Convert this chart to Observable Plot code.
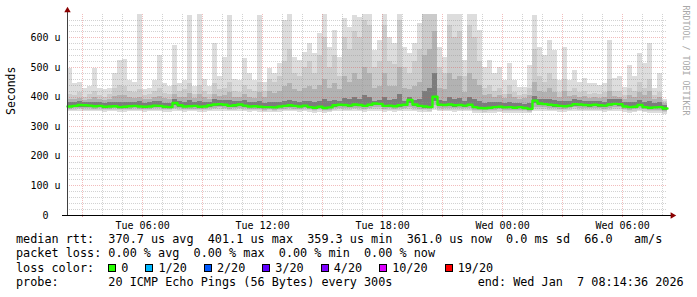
<!DOCTYPE html>
<html>
<head>
<meta charset="utf-8">
<script src="https://cdn.jsdelivr.net/npm/d3@7"></script>
<script src="https://cdn.jsdelivr.net/npm/@observablehq/plot@0.6"></script>
<style>
  html, body { margin: 0; padding: 0; background: #fff; }
  #wrap { width: 697px; height: 297px; position: relative; overflow: hidden; background: #fff; }
  #legend { font-family: "DejaVu Sans Mono", monospace; font-size: 11.8px; line-height: 14.4px; color: #000; white-space: pre; padding-left: 16px; }
  .sq { display: inline-block; width: 6px; height: 6px; border: 1px solid #000; margin-right: 5px; }
  .lbl { margin-right: 17px; }
</style>
</head>
<body>
<div id="wrap"><div id="chart"></div><div id="legend"></div></div>
<script>
// ---- data ----
const startTime = "2026-01-06T02:14:36Z";
const endTime = "2026-01-07T08:14:36Z";
const stepMinutes = 15;

// median rtt per 15-minute column (microseconds)
const med = [
  368,370,373,372,371,369,370,367,368,369,
  366,367,369,370,368,367,368,371,370,367,
  366,380,372,368,369,370,367,368,372,375,
  376,374,370,372,375,371,368,369,367,366,
  366,365,368,370,372,370,368,371,366,364,
  367,363,365,372,374,373,371,375,373,370,
  374,378,377,370,371,369,372,374,390,375,
  370,368,366,401,374,373,375,372,373,371,
  374,366,363,362,364,366,367,365,366,364,
  366,363,360,388,378,376,374,372,370,369,
  371,376,375,373,372,374,372,371,375,377,
  376,368,366,367,373,366,364,365,366,361];

// smoke: highest ping per column
const maxv = [
  495,445,450,430,435,495,430,425,430,478,
  523,525,456,450,678,425,430,456,540,445,
  435,575,445,456,675,435,678,460,435,580,
  468,535,675,460,457,530,478,456,675,450,
  495,478,512,658,678,535,523,550,580,546,
  613,678,568,625,535,665,636,675,670,678,
  678,557,590,678,602,580,678,568,546,580,
  647,678,678,678,568,535,678,678,678,523,
  678,678,625,501,523,478,501,456,512,456,
  433,433,506,675,568,540,590,557,456,568,
  456,490,450,462,445,445,440,445,590,462,
  468,433,506,468,546,512,580,428,478,390];

const u2 = [
  410,405,415,400,408,420,405,400,410,430,
  440,435,420,415,425,405,410,420,430,412,
  408,440,418,425,445,410,440,420,408,445,
  425,430,450,420,415,440,425,418,450,420,
  460,450,470,520,560,480,470,500,520,480,
  540,600,500,540,470,600,560,620,600,660,
  640,500,520,640,520,510,660,500,480,520,
  560,678,678,678,500,480,640,600,620,470,
  640,600,520,430,440,420,430,410,440,415,
  405,408,430,560,470,450,480,460,415,460,
  420,430,415,420,410,412,408,415,460,420,
  418,405,430,420,450,430,460,405,415,385];

const u3 = [
  392,390,395,388,392,398,390,388,392,402,
  405,404,398,395,400,390,393,398,403,394,
  392,410,398,400,412,394,408,400,392,410,
  402,405,415,400,398,410,400,396,415,398,
  420,412,420,435,445,425,420,430,435,425,
  440,460,430,445,425,470,450,480,460,500,
  480,430,435,480,435,435,500,430,425,435,
  450,540,560,620,430,425,480,460,470,415,
  480,460,440,405,410,400,405,395,410,398,
  392,395,405,450,420,415,430,415,400,420,
  402,405,398,402,396,398,394,400,420,402,
  400,392,405,400,415,405,420,392,398,378];

const u4 = [
  380,381,384,382,381,383,380,378,380,382,
  380,381,382,382,384,378,380,384,384,379,
  378,392,384,381,388,381,386,382,383,390,
  388,387,388,385,386,388,381,381,386,378,
  382,380,383,386,388,384,382,385,386,380,
  386,392,384,388,385,395,390,398,392,405,
  400,386,388,400,388,390,410,386,400,388,
  392,420,430,480,388,386,400,392,396,384,
  400,392,385,378,380,380,381,378,380,378,
  378,376,378,402,392,390,392,388,384,386,
  384,390,388,386,384,386,384,383,390,392,
  392,380,382,382,388,380,384,379,380,370];

const lo4 = [
  363,364,366,366,365,364,364,362,363,364,
  361,362,363,364,363,362,363,365,364,362,
  361,370,366,363,364,364,362,363,366,368,
  369,368,364,366,368,365,363,364,362,361,
  361,360,363,364,366,364,363,365,361,359,
  362,358,360,366,368,367,365,368,367,364,
  368,371,370,364,365,363,366,368,378,368,
  364,362,361,385,368,367,368,366,367,365,
  367,361,358,357,359,361,362,360,361,359,
  361,358,355,378,371,370,368,366,364,363,
  365,369,368,367,366,367,366,365,368,370,
  369,363,361,362,367,361,359,360,361,356];

const lo3 = [
  359,360,361,361,360,359,360,358,359,360,
  357,358,359,360,359,358,359,360,360,358,
  357,362,360,358,359,359,358,358,360,362,
  363,362,359,360,362,360,358,359,357,356,
  357,356,358,359,360,359,358,360,357,355,
  357,354,356,360,362,361,360,362,361,359,
  362,364,363,359,360,358,360,362,366,362,
  359,358,357,370,362,361,362,360,361,360,
  361,356,354,353,355,356,357,356,356,355,
  356,354,352,366,364,363,362,361,359,358,
  360,363,362,361,360,361,360,359,362,364,
  363,358,356,357,361,357,355,356,356,352];

const lo2 = [
  355,356,357,356,356,355,356,354,355,356,
  353,354,355,356,355,354,355,356,355,354,
  353,357,356,354,355,355,354,354,356,357,
  358,357,355,356,357,355,354,355,353,352,
  353,352,354,355,356,355,354,355,353,351,
  353,350,352,355,357,356,355,357,356,354,
  357,358,357,354,355,353,355,357,359,356,
  354,353,352,362,356,355,356,355,356,355,
  356,351,350,349,351,351,352,351,351,350,
  351,350,348,358,358,357,356,355,354,353,
  355,357,356,355,355,356,355,354,356,358,
  357,353,351,352,356,352,350,351,351,347];

const lo1 = [
  350,351,352,351,350,350,351,349,350,351,
  348,349,350,351,350,349,350,351,350,349,
  348,351,350,349,350,350,349,348,350,351,
  352,351,350,350,351,350,349,350,348,347,
  348,347,349,350,350,350,349,350,348,346,
  348,345,347,350,351,350,350,351,350,349,
  351,352,351,349,350,348,350,351,352,350,
  349,348,347,353,350,350,350,349,350,350,
  350,346,345,344,346,346,347,346,346,345,
  346,345,343,350,352,351,350,350,349,348,
  350,351,350,350,350,351,350,349,350,352,
  351,348,346,347,350,347,345,346,346,342];

// axis ticks
const yTicks = [100, 200, 300, 400, 500, 600];
const yUnit = "u";
const xTickTimes = ["2026-01-06T06:00:00Z", "2026-01-06T12:00:00Z", "2026-01-06T18:00:00Z", "2026-01-07T00:00:00Z", "2026-01-07T06:00:00Z"];
const xTickLabels = ["Tue 06:00", "Tue 12:00", "Tue 18:00", "Wed 00:00", "Wed 06:00"];
const yMax = 678.6;

// legend texts
const rttStats = [["370.7 us", "avg"], ["401.1 us", "max"], ["359.3 us", "min"], ["361.0 us", "now"], ["0.0 ms", "sd"]];
const amsValue = "66.0";
const lossStats = [["0.00 %", "avg"], ["0.00 %", "max"], ["0.00 %", "min"], ["0.00 %", "now"]];
const lossLabels = ["0", "1/20", "2/20", "3/20", "4/20", "10/20", "19/20"];
const lossColors = ["#26ff00", "#00b8ff", "#0059ff", "#5e00ff", "#7e00ff", "#dd00ff", "#ff0000"];
const probeText = "20 ICMP Echo Pings (56 Bytes) every 300s";
const endText = "end: Wed Jan  7 08:14:36 2026";

// ---- build ----
const t0 = new Date(startTime), t1 = new Date(endTime);
const step = stepMinutes * 60 * 1000;
const rows = med.map((m, i) => ({
  a: new Date(+t0 + i * step), b: new Date(+t0 + (i + 1) * step),
  med: m, maxv: maxv[i], u2: u2[i], u3: u3[i], u4: u4[i],
  lo1: lo1[i], lo2: lo2[i], lo3: lo3[i], lo4: lo4[i]
}));
const lineRows = rows.map(r => ({t: r.a, v: r.med})).concat([{t: t1, v: med[med.length - 1]}]);

const hourly = d3.utcHour.range(t0, t1);
const threeHourly = d3.utcHour.every(3).range(t0, t1);
const minorY = d3.range(20, yMax, 20).filter(v => v % 100 !== 0);
const majorY = d3.range(100, yMax, 100);
const xTicks = xTickTimes.map(s => new Date(s));
const fmtX = d => xTickLabels[xTicks.findIndex(t => +t === +d)];

const mono = "DejaVu Sans Mono";
const crisp = {shapeRendering: "crispEdges"};

const chart = Plot.plot({
  width: 697, height: 232,
  marginLeft: 67, marginRight: 30, marginTop: 14, marginBottom: 17,
  x: {type: "utc", domain: [t0, t1]},
  y: {domain: [0, yMax]},
  style: {fontFamily: mono, fontSize: "10px", background: "white", color: "black", overflow: "visible"},
  marks: [
    // smoke bands
    Plot.rect(rows, {x1: "a", x2: "b", y1: "lo1", y2: "maxv", fill: "#dddddd", ...crisp}),
    Plot.rect(rows, {x1: "a", x2: "b", y1: "lo2", y2: "u2", fill: "#cbcbcb", ...crisp}),
    Plot.rect(rows, {x1: "a", x2: "b", y1: "lo3", y2: "u3", fill: "#b2b2b2", ...crisp}),
    Plot.rect(rows, {x1: "a", x2: "b", y1: "lo4", y2: "u4", fill: "#7c7c7c", ...crisp}),
    // grid (rrdtool draws it with alpha over the graph)
    Plot.ruleY(minorY, {stroke: "#8f8f8f", strokeOpacity: 0.4, strokeDasharray: "1,1", ...crisp}),
    Plot.ruleX(hourly.filter(d => !threeHourly.some(t => +t === +d)), {stroke: "#8f8f8f", strokeOpacity: 0.4, strokeDasharray: "1,1", ...crisp}),
    Plot.ruleY(majorY, {stroke: "#de5050", strokeOpacity: 0.38, strokeDasharray: "1,1", ...crisp}),
    Plot.ruleX(threeHourly, {stroke: "#de5050", strokeOpacity: 0.38, strokeDasharray: "1,1", ...crisp}),
    Plot.ruleX(threeHourly, {y1: 0, y2: -7, stroke: "#de5050", strokeOpacity: 0.6, ...crisp}),
    // median
    Plot.line(lineRows, {x: "t", y: "v", curve: "step-after", stroke: "#26ff00", strokeWidth: 2.4}),
    // axes lines
    Plot.ruleX([t0], {y1: 0, y2: yMax + 17, stroke: "#404040", ...crisp}),
    Plot.ruleY([0], {x1: new Date(+t0 - 15 * 60000), x2: new Date(+t1 + 12 * 60000), stroke: "#000", ...crisp}),
    Plot.dot([{t: t0, v: yMax}], {x: "t", y: "v", symbol: "triangle", r: 2.4, fill: "#8b0000", stroke: "none", dy: -4}),
    Plot.dot([{t: t1, v: 0}], {x: "t", y: "v", symbol: "triangle", r: 2.4, fill: "#8b0000", stroke: "none", rotate: 90, dx: 5}),
    // tick labels
    Plot.axisY({ticks: yTicks, tickFormat: d => `${d} ${yUnit}`, tickSize: 0, tickPadding: 7, label: null, fill: "#000"}),
    Plot.axisY({ticks: [0], tickFormat: d => `${d}`, tickSize: 0, tickPadding: 19, label: null, fill: "#000"}),
    Plot.axisX({ticks: xTicks, tickFormat: fmtX, tickSize: 0, tickPadding: 6, label: null, fill: "#000"}),
    // titles
    Plot.text(["Seconds"], {frameAnchor: "left", dx: -56, rotate: -90, fontSize: 11.5, fontFamily: mono, fill: "#000"}),
    Plot.text(["RRDTOOL / TOBI OETIKER"], {frameAnchor: "top-right", dx: 21.5, dy: -9, rotate: 90, textAnchor: "start", fontSize: 8.3, fontFamily: mono, fill: "#a8a8a8"})
  ]
});
document.getElementById("chart").appendChild(chart);

// ---- legend below the SVG ----
const lg = document.getElementById("legend");
const line1 = "median rtt:  " + rttStats.map(([v, k]) => `${v} ${k}`).join("  ") + `  ${amsValue}   am/s`;
const line2 = "packet loss: " + lossStats.map(([v, k]) => `${v} ${k}`).join("  ");
const probeLine = ("probe:       " + probeText).padEnd(65, " ") + endText;
function addLine(txt) { const d = document.createElement("div"); d.textContent = txt; lg.appendChild(d); return d; }
addLine(line1);
addLine(line2);
const lc = addLine("loss color:  ");
lossLabels.forEach((l, i) => {
  const s = document.createElement("span"); s.className = "sq"; s.style.background = lossColors[i]; lc.appendChild(s);
  const t = document.createElement("span"); t.className = "lbl"; t.textContent = l; lc.appendChild(t);
});
addLine(probeLine);
</script>
</body>
</html>
